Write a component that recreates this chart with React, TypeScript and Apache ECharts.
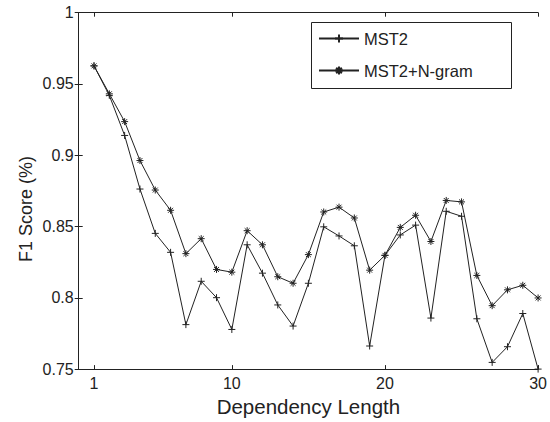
import React, { useEffect, useRef } from "react";
import * as echarts from "echarts";

const lengths = [1,2,3,4,5,6,7,8,9,10,11,12,13,14,15,16,17,18,19,20,21,22,23,24,25,26,27,28,29,30];
const mst2 = [0.9627,0.942,0.9139,0.8763,0.8452,0.8319,0.7812,0.8116,0.8001,0.7778,0.8372,0.8173,0.7950,0.7802,0.8102,0.8498,0.8434,0.8365,0.7662,0.8298,0.8441,0.8510,0.7858,0.8607,0.8572,0.7853,0.7547,0.7657,0.7890,0.7500];
const ngram = [0.9627,0.9431,0.9236,0.8963,0.8756,0.8614,0.8310,0.8415,0.8199,0.8180,0.8471,0.8372,0.8148,0.8102,0.8303,0.8602,0.8636,0.8560,0.8194,0.8298,0.8494,0.8579,0.8395,0.8683,0.8673,0.8157,0.7945,0.8056,0.8088,0.7999];
const xTicks = [1, 10, 20, 30];
const seriesNames = ["MST2", "MST2+N-gram"];
const xTitle = "Dependency Length";
const yTitle = "F1 Score (%)";

const FONT = "Liberation Sans, Arial, sans-serif";
const INK = "#222";
const PLUS = "path://M0,5H10M5,0V10";
const STAR = "path://M0,5H10M5,0V10M1.5,1.5L8.5,8.5M1.5,8.5L8.5,1.5";

export default function App() {
  const ref = useRef<HTMLDivElement>(null);
  useEffect(() => {
    const chart = echarts.init(ref.current!, null, { renderer: "svg" });
    const mk = (name: string, vals: number[], sym: string, size: number) => ({
      name,
      type: "line",
      data: lengths.map((x, i) => [x, vals[i]]),
      symbol: sym,
      symbolSize: size,
      showAllSymbol: true,
      clip: false,
      lineStyle: { color: INK, width: 1 },
      itemStyle: { color: "none", borderColor: INK, borderWidth: 1 },
      emphasis: { disabled: true },
    });
    const axisCommon = {
      axisLine: { show: true, lineStyle: { color: INK, width: 1 } },
      splitLine: { show: false },
    };
    chart.setOption({
      animation: false,
      grid: { left: 78.7, right: 11.7, top: 12.7, bottom: 47.5, containLabel: false },
      xAxis: [
        {
          type: "value", min: 0, max: 30, position: "bottom",
          ...axisCommon,
          axisTick: { show: true, inside: true, length: 4, customValues: xTicks, lineStyle: { color: INK } },
          axisLabel: { customValues: xTicks, color: INK, fontFamily: FONT, fontSize: 16, margin: 6 },
          name: xTitle, nameLocation: "middle", nameGap: 26,
          nameTextStyle: { color: INK, fontFamily: FONT, fontSize: 20.5 },
        },
        {
          type: "value", min: 0, max: 30, position: "top",
          ...axisCommon,
          axisTick: { show: true, inside: true, length: 4, customValues: xTicks, lineStyle: { color: INK } },
          axisLabel: { show: false },
        },
      ],
      yAxis: [
        {
          type: "value", min: 0.75, max: 1, interval: 0.05, position: "left",
          ...axisCommon,
          axisTick: { show: true, inside: true, length: 4, lineStyle: { color: INK } },
          axisLabel: { color: INK, fontFamily: FONT, fontSize: 16, margin: 5 },
        },
        {
          type: "value", min: 0.75, max: 1, interval: 0.05, position: "right",
          ...axisCommon,
          axisTick: { show: true, inside: true, length: 4, lineStyle: { color: INK } },
          axisLabel: { show: false },
        },
      ],
      legend: {
        orient: "vertical",
        left: 318, top: 30,
        itemWidth: 40, itemHeight: 10, itemGap: 15,
        padding: 0,
        data: seriesNames,
        textStyle: { color: INK, fontFamily: FONT, fontSize: 16.5 },
      },
      graphic: [
        { type: "rect", shape: { x: 311.5, y: 22.5, width: 200, height: 66 }, style: { fill: "none", stroke: INK, lineWidth: 1 } },
        {
          type: "text", x: 26, y: 209, rotation: Math.PI / 2,
          style: { text: yTitle, fill: INK, font: `18px ${FONT}`, align: "center", verticalAlign: "middle" },
        },
      ],
      series: [mk(seriesNames[0], mst2, PLUS, 7), mk(seriesNames[1], ngram, STAR, 7)],
    });
    return () => chart.dispose();
  }, []);
  return <div ref={ref} style={{ position: "fixed", left: 0, top: 0, width: 550, height: 422, background: "#fff" }} />;
}
